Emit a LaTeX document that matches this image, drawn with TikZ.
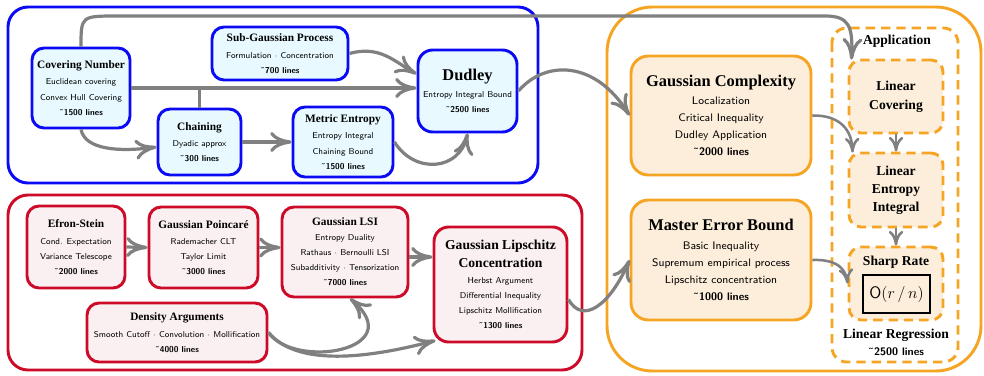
\documentclass[tikz,border=0pt]{standalone}
\usepackage{amsmath, amssymb}
\usepackage{fontspec}
\usepackage{tikz}
\usetikzlibrary{arrows.meta,calc}
\newfontfamily\titlefont{Liberation Serif}
\definecolor{bluebd}{RGB}{10,10,245}
\definecolor{bluefill}{RGB}{232,250,255}
\definecolor{redbd}{RGB}{205,10,40}
\definecolor{redfill}{RGB}{250,240,241}
\definecolor{orangebd}{RGB}{245,165,35}
\definecolor{orangefill}{RGB}{252,238,218}
\definecolor{arrgray}{RGB}{128,128,128}
\newcommand{\boxtitle}[2]{{\titlefont\bfseries\fontsize{#1}{#1}\selectfont #2}}
\newcommand{\nlines}[1]{\textbf{˜#1 lines}}

\begin{document}
\begin{tikzpicture}[x=0.75pt,y=0.75pt,yscale=-1,xscale=1,
  txt/.style={font=\sffamily\fontsize{6.4}{11.3}\selectfont},
  bigtxt/.style={font=\sffamily\fontsize{8.2}{12.8}\selectfont},
  bluebox/.style={draw=bluebd, fill=bluefill, line width=2.2pt, rounded corners=9pt, align=center, inner sep=1pt, txt},
  redbox/.style={draw=redbd, fill=redfill, line width=2.2pt, rounded corners=9pt, align=center, inner sep=1pt, txt},
  orangebox/.style={draw=orangebd, fill=orangefill, line width=2.2pt, rounded corners=13pt, align=center, inner sep=1pt, bigtxt},
  appbox/.style={draw=orangebd, fill=orangefill, line width=2.2pt, dash pattern=on 7pt off 4.5pt, rounded corners=9pt, align=center, inner sep=1pt},
  arr/.style={draw=arrgray, line width=2.4pt, -{Computer Modern Rightarrow[length=16pt,width=15pt]}},
  arrs/.style={draw=arrgray, line width=1.9pt, -{Computer Modern Rightarrow[length=11pt,width=11pt]}},
  joinline/.style={draw=arrgray, line width=2.4pt}
]
\useasboundingbox (0,0) rectangle (984,375);

% Groups
\draw [color=bluebd, line width=2.2pt, rounded corners=15pt] (8,7) rectangle (538,183);
\draw [color=redbd, line width=2.2pt, rounded corners=15pt] (8,195) rectangle (582,370);
\draw [color=orangebd, line width=2.2pt, rounded corners=34pt] (607,7) rectangle (981,371);
\draw [color=orangebd, line width=2.2pt, dash pattern=on 7pt off 4.5pt, rounded corners=11pt] (832,28) rectangle (958,362);

% Empirical process nodes
\node [bluebox, minimum width=73.5pt, minimum height=60pt] (cov) at (81,88) {\boxtitle{8.5}{Covering Number}\\[1pt] Euclidean covering\\ Convex Hull Covering\\ \nlines{1500}};
\node [bluebox, minimum width=102pt, minimum height=39.75pt] (subg) at (280,53.5) {\boxtitle{8.5}{Sub-Gaussian Process}\\[1pt] Formulation $\cdot$ Concentration\\ \nlines{700}};
\node [bluebox, minimum width=62.25pt, minimum height=49.5pt] (chain) at (199.5,142) {\boxtitle{8.5}{Chaining}\\[1pt] Dyadic approx\\ \nlines{300}};
\node [bluebox, minimum width=75pt, minimum height=52.5pt] (metric) at (343,142) {\boxtitle{8.5}{Metric Entropy}\\[1pt] Entropy Integral\\ Chaining Bound\\ \nlines{1500}};
\node [bluebox, rounded corners=11pt, minimum width=74.25pt, minimum height=61.5pt] (dudley) at (467.5,91) {\boxtitle{12.3}{Dudley}\\[1pt] Entropy Integral Bound\\ \nlines{2500}};

% Concentration nodes
\node [redbox, minimum width=73.5pt, minimum height=61.5pt] (efron) at (76,247) {\boxtitle{8.5}{Efron-Stein}\\[1pt] Cond. Expectation\\ Variance Telescope\\ \nlines{2000}};
\node [redbox, minimum width=81.75pt, minimum height=60.75pt] (poinc) at (203.5,247.5) {\boxtitle{8.5}{Gaussian Poincaré}\\[1pt] Rademacher CLT\\ Taylor Limit\\ \nlines{3000}};
\node [redbox, minimum width=94.5pt, minimum height=67.5pt] (lsi) at (345,252) {\boxtitle{8.5}{Gaussian LSI}\\ Entropy Duality\\ Rathaus $\cdot$ Bernoulli LSI\\ Subadditivity $\cdot$ Tensorization\\ \nlines{7000}};
\node [redbox, rounded corners=11pt, minimum width=99.75pt, minimum height=86.25pt] (lip) at (500.5,284.5) {\boxtitle{10.2}{Gaussian Lipschitz}\\[2pt] \boxtitle{10.2}{Concentration}\\[1pt] Herbst Argument\\ Differential Inequality\\ Lipschitz Mollification\\ \nlines{1300}};
\node [redbox, minimum width=135pt, minimum height=44.25pt] (dens) at (177,332.5) {\boxtitle{8.5}{Density Arguments}\\[1pt] Smooth Cutoff $\cdot$ Convolution $\cdot$ Mollification\\ \nlines{4000}};

% Regression nodes
\node [orangebox, minimum width=135pt, minimum height=89.25pt] (gcomp) at (721,115.5) {\boxtitle{12.3}{Gaussian Complexity}\\[1pt] Localization\\ Critical Inequality\\ Dudley Application\\ \nlines{2000}};
\node [orangebox, minimum width=135pt, minimum height=90pt] (master) at (721,260) {\boxtitle{12.3}{Master Error Bound}\\[1pt] Basic Inequality\\ Supremum empirical process\\ Lipschitz concentration\\ \nlines{1000}};

% Application
\node [font=\titlefont\bfseries\fontsize{10.2}{13}\selectfont] (app) at (897,41) {Application};
\node [appbox, font=\titlefont\bfseries\fontsize{10.2}{14}\selectfont, minimum width=70.5pt, minimum height=54.75pt] (lcov) at (896,96.5) {Linear\\ Covering};
\node [appbox, font=\titlefont\bfseries\fontsize{10.2}{13.5}\selectfont, minimum width=70.5pt, minimum height=55.5pt] (lent) at (896,190) {Linear\\ Entropy\\ Integral};
\node [appbox, minimum width=70.5pt, minimum height=54.75pt] (sharp) at (896,283.5) {};
\node [font=\titlefont\bfseries\fontsize{10.2}{13}\selectfont] (sharpt) at (896,262) {Sharp Rate};
\node [draw=black, line width=1.2pt, minimum width=50pt, minimum height=28.5pt, font=\sffamily\fontsize{12.5}{14}\selectfont] (orate) at (896.5,294) {$\mathsf{O}(r\,/\,n)$};
\node [align=center, bigtxt] (linreg) at (896,342) {\boxtitle{10.2}{Linear Regression}\\ \nlines{2500}};

% Connectors
\draw [arr] (cov.north) .. controls (81,16) .. (118,16) -- (825,16) .. controls (849,16) and (853,26) .. ($(lcov.north west)+(4,1)$);
\draw [arr] (cov.east) -- (cov.east -| dudley.west);
\draw [joinline] (chain.north) -- (chain.north |- cov.east);
\draw [arr] (cov.south) .. controls (85,150) and (120,152) .. ($(chain.west)+(0,5)$);
\draw [arr] (subg.east) .. controls (380,45) and (395,62) .. ($(dudley.west)+(0,-17)$);
\draw [arr] (chain.east) -- (metric.west);
\draw [arr] (metric.east) .. controls (415,175) and (460,170) .. (dudley.south);
\draw [arr] (dudley.east) .. controls (545,60) and (595,60) .. (gcomp.west);

\draw [arr] (efron.east) -- (poinc.west);
\draw [arr] (poinc.east) -- (poinc.east -| lsi.west);
\draw [arr] ($(lsi.east)+(0,5)$) -- ($(lsi.east -| lip.west)+(0,5)$);
\draw [arr] (dens.east) .. controls (295,370) and (410,350) .. ($(lsi.south)+(5,0)$);
\draw [arr] (dens.east) .. controls (300,370) and (380,355) .. ($(lip.south west)+(3,-3)$);
\draw [arr] ($(lip.east)+(0,15)$) .. controls (583,325) and (610,305) .. (master.west);

\draw [arrs] (gcomp.east) .. controls (840,115) and (852,130) .. ($(lent.north west)+(5,1)$);
\draw [arrs] (lcov.south) -- (lent.north);
\draw [arrs] (lent.south) -- (sharp.north);
\draw [arrs] (master.east) .. controls (838,259) and (846,270) .. (sharp.west);

\end{tikzpicture}
\end{document}
